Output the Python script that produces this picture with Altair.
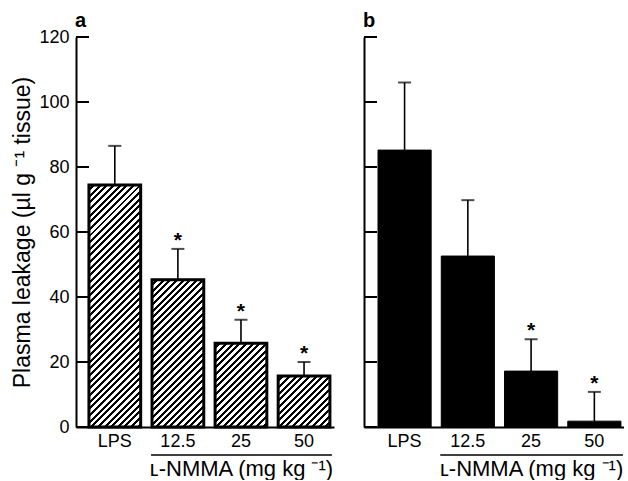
import math
import altair as alt
import pandas as pd

# ---- data ----
doses = ["LPS", "12.5", "25", "50"]
a_mean = [74.5, 45.3, 25.8, 15.7]
a_sem = [12.0, 9.5, 7.2, 4.3]
a_star = [False, True, True, True]
b_mean = [85.2, 52.6, 17.2, 1.8]
b_sem = [20.8, 17.2, 9.8, 9.0]
b_star = [False, False, True, True]
y_ticks = [0, 20, 40, 60, 80, 100, 120]

# ---- layout / style ----
H = 390
FONT = "Liberation Sans"
Y_MAX = 120


def band_geom(W, pI, pO, align, n=4):
    step = W / (n - pI + 2 * pO)
    start = (W - step * (n - pI)) * align
    bw = step * (1 - pI)
    return step, start, bw


def hatch_gradient(mean, bw):
    h = max(mean * H / Y_MAX, 1.0)
    w = bw
    period = 4.7          # perpendicular stripe period in px
    dark = 0.45           # fraction of period that is dark
    dt = period * math.sqrt(2) * w / (w * w + h * h)
    tmax = (w + h) * w / (w * w + h * h)
    stops = []
    k = 0
    while k * dt <= min(1.0, tmax + dt):
        o0 = k * dt
        o1 = o0 + (1 - dark) * dt
        o2 = (k + 1) * dt
        if o0 > 1:
            break
        stops += [
            {"offset": round(min(o0, 1), 6), "color": "white"},
            {"offset": round(min(o1, 1), 6), "color": "white"},
            {"offset": round(min(o1, 1), 6), "color": "black"},
            {"offset": round(min(o2, 1), 6), "color": "black"},
        ]
        k += 1
    return {"gradient": "linear", "x1": 0, "y1": 0, "x2": 1, "y2": h / w, "stops": stops}


def panel(means, sems, stars, letter, hatched, W, pI, pO, align, show_labels):
    df = pd.DataFrame({
        "dose": doses,
        "mean": means,
        "upper": [m + s for m, s in zip(means, sems)],
        "star": ["*" if s else "" for s in stars],
    })
    step, start, bw = band_geom(W, pI, pO, align)

    xs = alt.Scale(domain=doses, paddingInner=pI, paddingOuter=pO, align=align)
    xaxis = alt.Axis(title=None, labelAngle=0, ticks=False, domainWidth=2, domainColor="black",
                     labelFont=FONT, labelFontSize=18, labelColor="black", labelPadding=5,
                     grid=False)
    ys = alt.Scale(domain=[0, Y_MAX], nice=False, zero=True)
    if show_labels:
        yaxis = alt.Axis(values=y_ticks, ticks=False, grid=False, domainWidth=2, domainColor="black",
                         labelFont=FONT, labelFontSize=18, labelColor="black", labelPadding=7,
                         title="Plasma leakage (\u00b5l g \u207b\u00b9 tissue)",
                         titleFont=FONT, titleFontSize=23, titleFontWeight="normal",
                         titleColor="black", titlePadding=4)
    else:
        yaxis = alt.Axis(values=y_ticks, ticks=False, grid=False, domainWidth=2, domainColor="black",
                         labels=False, title=None)

    def X():
        return alt.X("dose:N", scale=xs, sort=doses, axis=xaxis)

    def Y(field):
        return alt.Y(field, scale=ys, axis=yaxis)

    base = alt.Chart(df)
    layers = []
    if hatched:
        for d, m in zip(doses, means):
            layers.append(
                base.transform_filter(alt.datum.dose == d)
                .mark_bar(fill=hatch_gradient(m, bw), stroke="black", strokeWidth=3)
                .encode(x=X(), y=Y("mean:Q"))
            )
    else:
        layers.append(base.mark_bar(fill="black", stroke="black", strokeWidth=1)
                      .encode(x=X(), y=Y("mean:Q")))

    layers.append(base.mark_rule(color="black", strokeWidth=1.6)
                  .encode(x=X(), y=Y("mean:Q"), y2="upper:Q"))
    layers.append(base.mark_tick(color="black", size=13, thickness=2, orient="horizontal")
                  .encode(x=X(), y=Y("upper:Q")))
    layers.append(base.transform_filter(alt.datum.star != "")
                  .mark_text(font=FONT, fontSize=21, fontWeight="bold", color="black",
                             baseline="alphabetic", dy=-2)
                  .encode(x=X(), y=Y("upper:Q"), text="star:N"))

    # inward y ticks
    tdf = pd.DataFrame({"v": y_ticks})
    layers.append(alt.Chart(tdf).mark_rule(color="black", strokeWidth=2)
                  .encode(y=Y("v:Q"), x=alt.value(0), x2=alt.value(13)))

    # panel letter
    layers.append(alt.Chart(pd.DataFrame({"t": [letter]}))
                  .mark_text(font=FONT, fontSize=20, fontWeight="bold", color="black",
                             align="left", baseline="alphabetic")
                  .encode(text="t:N", x=alt.value(-1), y=alt.value(-10)))

    # underline under the L-NMMA doses and its label
    x0 = start + step - 1
    x1 = start + 3 * step + bw + 2
    layers.append(alt.Chart(pd.DataFrame({"t": [""]})).mark_rule(color="black", strokeWidth=1.5)
                  .encode(x=alt.value(x0), x2=alt.value(x1), y=alt.value(H + 28)))
    layers.append(alt.Chart(pd.DataFrame({"t": ["\u029f-NMMA (mg kg \u207b\u00b9)"]}))
                  .mark_text(font=FONT, fontSize=22, color="black", align="center",
                             baseline="middle")
                  .encode(text="t:N", x=alt.value((x0 + x1) / 2), y=alt.value(H + 42)))

    return alt.layer(*layers).properties(width=W, height=H)


pa = panel(a_mean, a_sem, a_star, "a", True, 258, 0.18, 0.135, 0.76, True)
pb = panel(b_mean, b_sem, b_star, "b", False, 260, 0.16, 0.135, 0.82, False)

chart = (
    alt.hconcat(pa, pb, spacing=30, bounds="flush")
    .properties(padding={"left": 11, "top": 11, "right": 0, "bottom": 0}, background="white")
    .configure_view(strokeWidth=0)
)

chart.save("out.html", embed_options={"renderer": "svg", "actions": False})
